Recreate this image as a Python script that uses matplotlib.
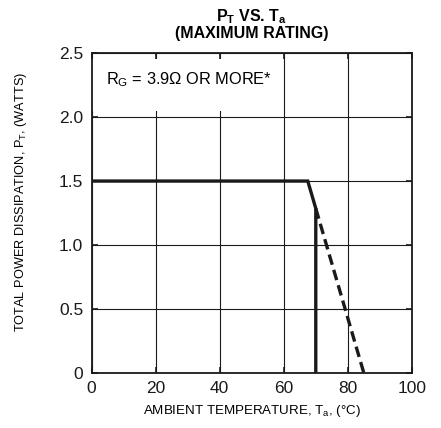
import matplotlib
matplotlib.use("Agg")
import matplotlib.pyplot as plt

plt.rcParams['font.family'] = ['Liberation Sans', 'DejaVu Sans']
plt.rcParams['mathtext.fontset'] = 'custom'
plt.rcParams['mathtext.rm'] = 'Liberation Sans'
plt.rcParams['mathtext.bf'] = 'Liberation Sans:bold'

# derating curve (solid) and its extension (dashed)
solid_t = [0, 67.5, 70, 70]
solid_p = [1.5, 1.5, 1.286, 0]
dash_t = [70, 85]
dash_p = [1.286, 0]

xticks = [0, 20, 40, 60, 80, 100]
yticks = [0, 0.5, 1.0, 1.5, 2.0, 2.5]
ylabels = ["0", "0.5", "1.0", "1.5", "2.0", "2.5"]

fig = plt.figure(figsize=(4.41, 4.28), dpi=100)
ax = fig.add_axes([0.2075, 0.1285, 0.7265, 0.7475])

ax.plot(solid_t, solid_p, color="#1a1a1a", lw=2.4, solid_joinstyle="miter", zorder=3)
ax.plot(dash_t, dash_p, color="#1a1a1a", lw=2.4, ls=(0, (3.2, 1.6)), zorder=3)

ax.set_xlim(0, 100)
ax.set_ylim(0, 2.5)
ax.set_xticks(xticks)
ax.set_yticks(yticks)
ax.set_yticklabels(ylabels)
ax.grid(True, color="#1a1a1a", lw=0.8)
ax.tick_params(direction="in", length=4, width=1.2, labelsize=12.5, pad=6,
               top=True, right=True, colors="#1a1a1a")
for s in ax.spines.values():
    s.set_linewidth(1.3)
    s.set_color("#1a1a1a")

ax.text(4.5, 2.29, r"R$_\mathregular{G}$ = 3.9Ω OR MORE*", fontsize=11.8, va="center",
        ha="left", zorder=4)
ax.add_patch(plt.Rectangle((0.3, 2.05), 59, 0.4, facecolor="white",
                           edgecolor="none", zorder=2.5))

ax.set_xlabel(r"AMBIENT TEMPERATURE, T$_\mathregular{a}$, (°C)", fontsize=9.6, labelpad=5)
ax.set_ylabel(r"TOTAL POWER DISSIPATION, P$_\mathregular{T}$, (WATTS)", fontsize=9.2)
ax.yaxis.set_label_coords(-0.195, 0.535)

fig.text(0.57, 0.962, r"P$_\mathbf{T}$ VS. T$_\mathbf{a}$", fontsize=11.5,
         fontweight="bold", ha="center", va="center")
fig.text(0.57, 0.921, "(MAXIMUM RATING)", fontsize=11.5, fontweight="bold",
         ha="center", va="center")

fig.savefig("out.png", dpi=100)
